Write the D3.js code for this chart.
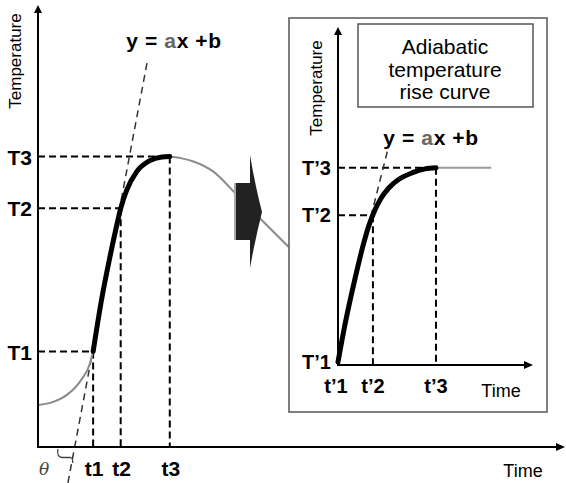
<!DOCTYPE html>
<html>
<head>
<meta charset="utf-8">
<script src="https://cdn.jsdelivr.net/npm/d3@7"></script>
<style>
  body { margin: 0; background: #fff; }
  svg { display: block; font-family: "Liberation Sans", Arial, sans-serif; }
</style>
</head>
<body>
<div id="app"></div>
<script>
// main chart: time / temperature in arbitrary units (0..100)
const mainTimeLabels = ["t1", "t2", "t3"];
const mainTimeValues = [10.5, 15.75, 25.1];
const mainTempLabels = ["T1", "T2", "T3"];
const mainTempValues = [21.6, 54.0, 65.7];

// gray curve before the rise
const preTime = [0, 2.9, 5.5, 8.0, 9.9, 10.5];
const preTemp = [9.5, 10.2, 11.8, 14.8, 18.9, 21.6];
// black rise segment T1 -> T3
const riseTime = [10.5, 12.1, 13.7, 15.1, 15.75, 16.9, 18.8, 21.3, 23.6, 25.1];
const riseTemp = [21.6, 33.3, 43.0, 50.7, 54.0, 58.1, 62.3, 64.8, 65.6, 65.7];
// gray decline after the peak
const postTime = [25.1, 27.4, 29.6, 33.4, 37.9, 42.3, 47.7];
const postTemp = [65.7, 65.3, 64.6, 62.3, 57.0, 51.7, 45.3];
// tangent y = ax + b
const tangentTime = [5.7, 20.8];
const tangentTemp = [-8.1, 87.1];

// inset chart
const insetTimeLabels = ["t\u20191", "t\u20192", "t\u20193"];
const insetTimeValues = [0, 18.0, 50.5];
const insetTempLabels = ["T\u20191", "T\u20192", "T\u20193"];
const insetTempValues = [0.9, 44.4, 58.5];
const insetRiseTime = [0, 3.6, 8.8, 12.9, 16.0, 19.1, 22.2, 26.3, 31.4, 38.1, 44.9, 50.5];
const insetRiseTemp = [0.9, 12.0, 25.7, 35.4, 41.5, 46.1, 49.5, 52.6, 55.1, 57.0, 58.2, 58.5];
const insetFlatTime = [50.5, 79];
const insetFlatTemp = [58.5, 58.5];
const insetTangentTime = [13.9, 26.5];
const insetTangentTemp = [37.1, 65.8];

const titleLines = ["Adiabatic", "temperature", "rise curve"];

const width = 566, height = 483;

const svg = d3.select("#app").append("svg")
  .attr("width", width)
  .attr("height", height);

const x = d3.scaleLinear().domain([0, 100]).range([38, 563]);
const y = d3.scaleLinear().domain([0, 100]).range([447, 5]);
const xi = d3.scaleLinear().domain([0, 100]).range([338, 532]);
const yi = d3.scaleLinear().domain([0, 100]).range([365, 28]);

const zip = (a, b) => a.map((v, i) => [v, b[i]]);

function drawAxes(g, sx, sy, xEnd, yTop) {
  const x0 = sx(0), y0 = sy(0);
  g.append("line").attr("x1", x0).attr("y1", y0).attr("x2", xEnd - 6).attr("y2", y0)
    .attr("stroke", "#000").attr("stroke-width", 2);
  g.append("line").attr("x1", x0).attr("y1", y0 + 1).attr("x2", x0).attr("y2", yTop + 6)
    .attr("stroke", "#000").attr("stroke-width", 2);
  g.append("path")
    .attr("d", `M${xEnd},${y0} L${xEnd - 9},${y0 - 4} L${xEnd - 9},${y0 + 4} Z`)
    .attr("fill", "#000");
  g.append("path")
    .attr("d", `M${x0},${yTop} L${x0 - 4},${yTop + 8} L${x0 + 4},${yTop + 8} Z`)
    .attr("fill", "#000");
}

function drawGuides(g, sx, sy, tVals, TVals) {
  tVals.forEach((t, i) => {
    const T = TVals[i];
    g.append("line")
      .attr("x1", sx(0)).attr("y1", sy(T)).attr("x2", sx(t)).attr("y2", sy(T))
      .attr("stroke", "#000").attr("stroke-width", 2).attr("stroke-dasharray", "7,4");
    g.append("line")
      .attr("x1", sx(t)).attr("y1", sy(T)).attr("x2", sx(t)).attr("y2", sy(0))
      .attr("stroke", "#000").attr("stroke-width", 2).attr("stroke-dasharray", "7,4");
  });
}

function lineGen(sx, sy) {
  return d3.line().x(d => sx(d[0])).y(d => sy(d[1])).curve(d3.curveMonotoneX);
}

// ---------- main chart ----------
const main = svg.append("g");
const mainLine = lineGen(x, y);

drawGuides(main, x, y, mainTimeValues, mainTempValues);

main.append("line")
  .attr("x1", x(tangentTime[0])).attr("y1", y(tangentTemp[0]))
  .attr("x2", x(tangentTime[1])).attr("y2", y(tangentTemp[1]))
  .attr("stroke", "#333").attr("stroke-width", 1.5).attr("stroke-dasharray", "7,5");

main.append("path").datum(zip(preTime, preTemp))
  .attr("d", mainLine).attr("fill", "none").attr("stroke", "#8a8a8a").attr("stroke-width", 2);
main.append("path").datum(zip(postTime, postTemp))
  .attr("d", mainLine).attr("fill", "none").attr("stroke", "#8a8a8a").attr("stroke-width", 2);
main.append("path").datum(zip(riseTime, riseTemp))
  .attr("d", mainLine).attr("fill", "none").attr("stroke", "#000").attr("stroke-width", 5)
  .attr("stroke-linecap", "round");

drawAxes(main, x, y, 565, 5);

main.selectAll("text.tlab").data(mainTimeLabels).join("text")
  .attr("x", (d, i) => x(mainTimeValues[i]) + 1)
  .attr("y", 476)
  .attr("text-anchor", "middle")
  .attr("font-size", 21).attr("font-weight", "bold")
  .text(d => d);

main.selectAll("text.Tlab").data(mainTempLabels).join("text")
  .attr("x", 32)
  .attr("y", (d, i) => y(mainTempValues[i]) + 8)
  .attr("text-anchor", "end")
  .attr("font-size", 21).attr("font-weight", "bold")
  .text(d => d);

main.append("text")
  .attr("transform", `translate(21,61) rotate(-90)`)
  .attr("text-anchor", "middle")
  .attr("font-size", 17)
  .text("Temperature");

main.append("text")
  .attr("x", 523).attr("y", 477)
  .attr("text-anchor", "middle")
  .attr("font-size", 18)
  .text("Time");

function equation(g, cx, by) {
  const t = g.append("text")
    .attr("x", cx).attr("y", by)
    .attr("text-anchor", "middle")
    .attr("font-size", 21).attr("font-weight", "bold")
    .attr("letter-spacing", 0.6);
  t.append("tspan").text("y = ");
  t.append("tspan").attr("fill", "#666").text("a");
  t.append("tspan").text("x +b");
}
equation(main, 174, 48);

// theta and angle marker
main.append("text")
  .attr("x", 44).attr("y", 475)
  .attr("text-anchor", "middle")
  .attr("font-family", "DejaVu Serif, serif")
  .attr("font-style", "italic")
  .attr("font-size", 17)
  .attr("fill", "#444")
  .text("\u03b8");
main.append("path")
  .attr("d", `M${x(3.8)},449 Q${x(3.5)},457 ${x(4.6)},457.5 L${x(6.2)},457.5 Q${x(6.7)},458.5 ${x(6.6)},463`)
  .attr("fill", "none").attr("stroke", "#444").attr("stroke-width", 1.3);

// transition arrow
const arrow = svg.append("g");
arrow.append("rect").attr("x", 235).attr("y", 183).attr("width", 16).attr("height", 57).attr("fill", "#222");
arrow.append("rect").attr("x", 234).attr("y", 183).attr("width", 2).attr("height", 57).attr("fill", "#aaa");
arrow.append("path")
  .attr("d", "M250,155 Q255,185 262,212 Q255,240 250,268 Z")
  .attr("fill", "#222");

// ---------- inset ----------
const inset = svg.append("g");
inset.append("rect")
  .attr("x", 289).attr("y", 18).attr("width", 258).attr("height", 394)
  .attr("fill", "#fff").attr("stroke", "#555").attr("stroke-width", 1.5);
inset.append("rect")
  .attr("x", 358).attr("y", 24).attr("width", 175).attr("height", 83)
  .attr("fill", "none").attr("stroke", "#555").attr("stroke-width", 1.5);
inset.selectAll("text.title").data(titleLines).join("text")
  .attr("x", 445)
  .attr("y", (d, i) => 54 + i * 22.5)
  .attr("text-anchor", "middle")
  .attr("font-size", 21)
  .text(d => d);

const insetLine = lineGen(xi, yi);
drawGuides(inset, xi, yi, insetTimeValues.slice(1), insetTempValues.slice(1));

inset.append("line")
  .attr("x1", xi(insetTangentTime[0])).attr("y1", yi(insetTangentTemp[0]))
  .attr("x2", xi(insetTangentTime[1])).attr("y2", yi(insetTangentTemp[1]))
  .attr("stroke", "#333").attr("stroke-width", 1.5).attr("stroke-dasharray", "7,5");

inset.append("path").datum(zip(insetFlatTime, insetFlatTemp))
  .attr("d", insetLine).attr("fill", "none").attr("stroke", "#999").attr("stroke-width", 2);
inset.append("path").datum(zip(insetRiseTime, insetRiseTemp))
  .attr("d", insetLine).attr("fill", "none").attr("stroke", "#000").attr("stroke-width", 5)
  .attr("stroke-linecap", "round");

drawAxes(inset, xi, yi, 533, 27);

inset.selectAll("text.tlab").data(insetTimeLabels).join("text")
  .attr("x", (d, i) => xi(insetTimeValues[i]) - (i === 0 ? 2 : 0))
  .attr("y", 393)
  .attr("text-anchor", "middle")
  .attr("font-size", 20).attr("font-weight", "bold")
  .text(d => d);

inset.selectAll("text.Tlab").data(insetTempLabels).join("text")
  .attr("x", 331)
  .attr("y", (d, i) => yi(insetTempValues[i]) + 7)
  .attr("text-anchor", "end")
  .attr("font-size", 20).attr("font-weight", "bold")
  .text(d => d);

inset.append("text")
  .attr("transform", `translate(322,88) rotate(-90)`)
  .attr("text-anchor", "middle")
  .attr("font-size", 17)
  .text("Temperature");

inset.append("text")
  .attr("x", 501).attr("y", 397)
  .attr("text-anchor", "middle")
  .attr("font-size", 18)
  .text("Time");

equation(inset, 431, 145);
</script>
</body>
</html>
